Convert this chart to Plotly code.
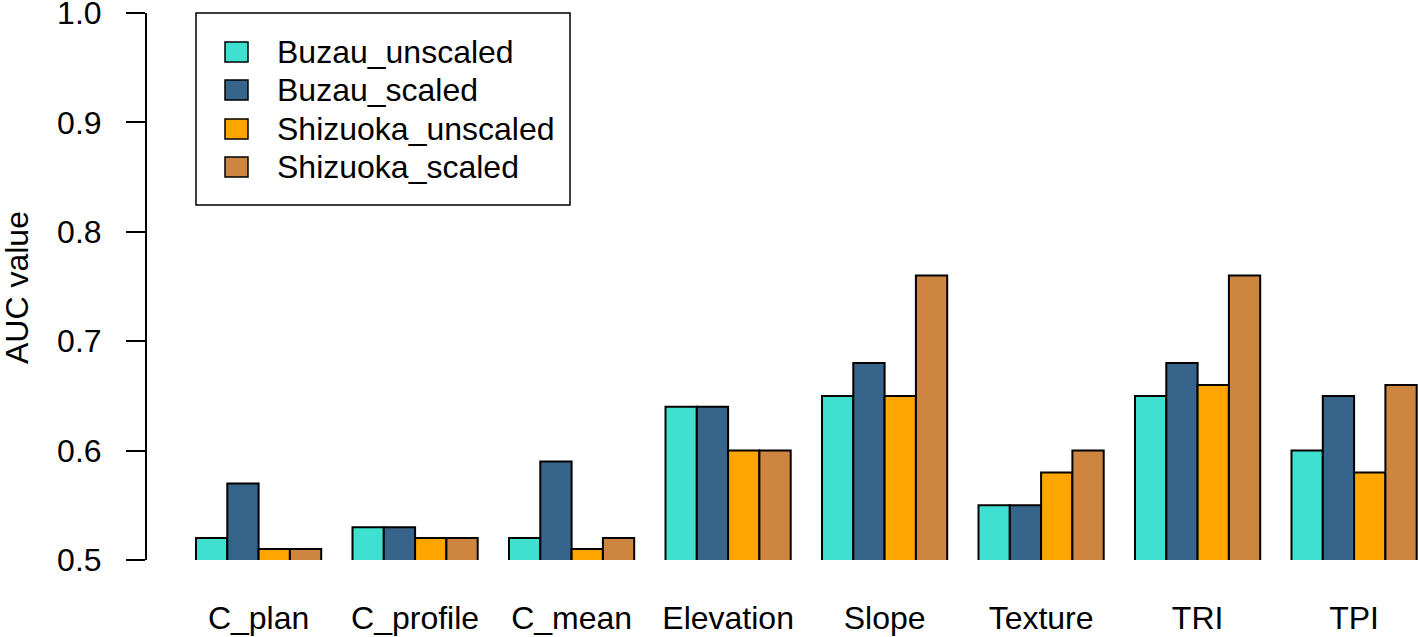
import plotly.graph_objects as go

categories = ["C_plan", "C_profile", "C_mean", "Elevation", "Slope", "Texture", "TRI", "TPI"]
series_names = ["Buzau_unscaled", "Buzau_scaled", "Shizuoka_unscaled", "Shizuoka_scaled"]
buzau_unscaled = [0.52, 0.53, 0.52, 0.64, 0.65, 0.55, 0.65, 0.60]
buzau_scaled = [0.57, 0.53, 0.59, 0.64, 0.68, 0.55, 0.68, 0.65]
shizuoka_unscaled = [0.51, 0.52, 0.51, 0.60, 0.65, 0.58, 0.66, 0.58]
shizuoka_scaled = [0.51, 0.52, 0.52, 0.60, 0.76, 0.60, 0.76, 0.66]
colors = ["#40E0D0", "#36648B", "#FFA500", "#CD853F"]
y_ticks = [0.5, 0.6, 0.7, 0.8, 0.9, 1.0]

series_values = [buzau_unscaled, buzau_scaled, shizuoka_unscaled, shizuoka_scaled]

W, H = 1418, 637
L, R, T, B = 147, 1418, 13, 560
FONT = "Liberation Sans, Arial, Helvetica, sans-serif"
FS = 32

fig = go.Figure()
for name, vals, col in zip(series_names, series_values, colors):
    fig.add_trace(go.Bar(
        x=categories, y=vals, name=name,
        marker=dict(color=col, line=dict(color="black", width=2)),
        showlegend=False,
    ))

def px(x):
    return (x - L) / (R - L)

def py(y):
    return (B - y) / (B - T)

# legend (drawn manually to match R-style legend)
shapes = [dict(type="rect", xref="paper", yref="paper",
               x0=px(196), x1=px(570), y0=py(205), y1=py(13),
               line=dict(color="black", width=1.5), fillcolor="white", layer="above")]
annotations = []
row_y = [52, 90, 129, 167]
for name, col, ry in zip(series_names, colors, row_y):
    shapes.append(dict(type="rect", xref="paper", yref="paper",
                       x0=px(225), x1=px(248), y0=py(ry + 10), y1=py(ry - 10),
                       line=dict(color="black", width=1.5), fillcolor=col, layer="above"))
    annotations.append(dict(xref="paper", yref="paper", x=px(275), y=py(ry),
                            text=name, showarrow=False, xanchor="left", yanchor="middle",
                            font=dict(size=FS, color="black", family=FONT)))

annotations.append(dict(xref="paper", yref="paper", x=px(17), y=py(288),
                        text="AUC value", showarrow=False, textangle=-90,
                        xanchor="center", yanchor="middle",
                        font=dict(size=FS, color="black", family=FONT)))

# x range so category centers fall at matching pixels
period = 156.5
c0 = 196 + 2 * 31.3
xr = [-(c0 - L) / period, (R - c0) / period]

fig.update_layout(
    width=W, height=H,
    margin=dict(l=L, r=W - R, t=T, b=H - B, pad=0, autoexpand=False),
    paper_bgcolor="white", plot_bgcolor="white",
    barmode="group", bargap=0.2, bargroupgap=0,
    font=dict(family=FONT, size=FS, color="black"),
    shapes=shapes, annotations=annotations,
    xaxis=dict(type="category", range=xr, showline=False, ticks="",
               showgrid=False, zeroline=False, ticklabelstandoff=36,
               automargin=False, ticklabeloverflow="allow",
               tickfont=dict(size=FS, family=FONT)),
    yaxis=dict(range=[0.5, 1.0], tickvals=y_ticks, ticktext=[f"{v:.1f}" for v in y_ticks],
               showline=True, linecolor="black", linewidth=2,
               ticks="outside", ticklen=19, tickwidth=2, tickcolor="black",
               showgrid=False, zeroline=False, ticklabelstandoff=18,
               ticklabeloverflow="allow", automargin=False,
               tickfont=dict(size=FS, family=FONT)),
)

fig.write_html("out.html", config={"displayModeBar": False},
               post_script="document.body.style.margin='0px';document.body.style.overflow='hidden';")
